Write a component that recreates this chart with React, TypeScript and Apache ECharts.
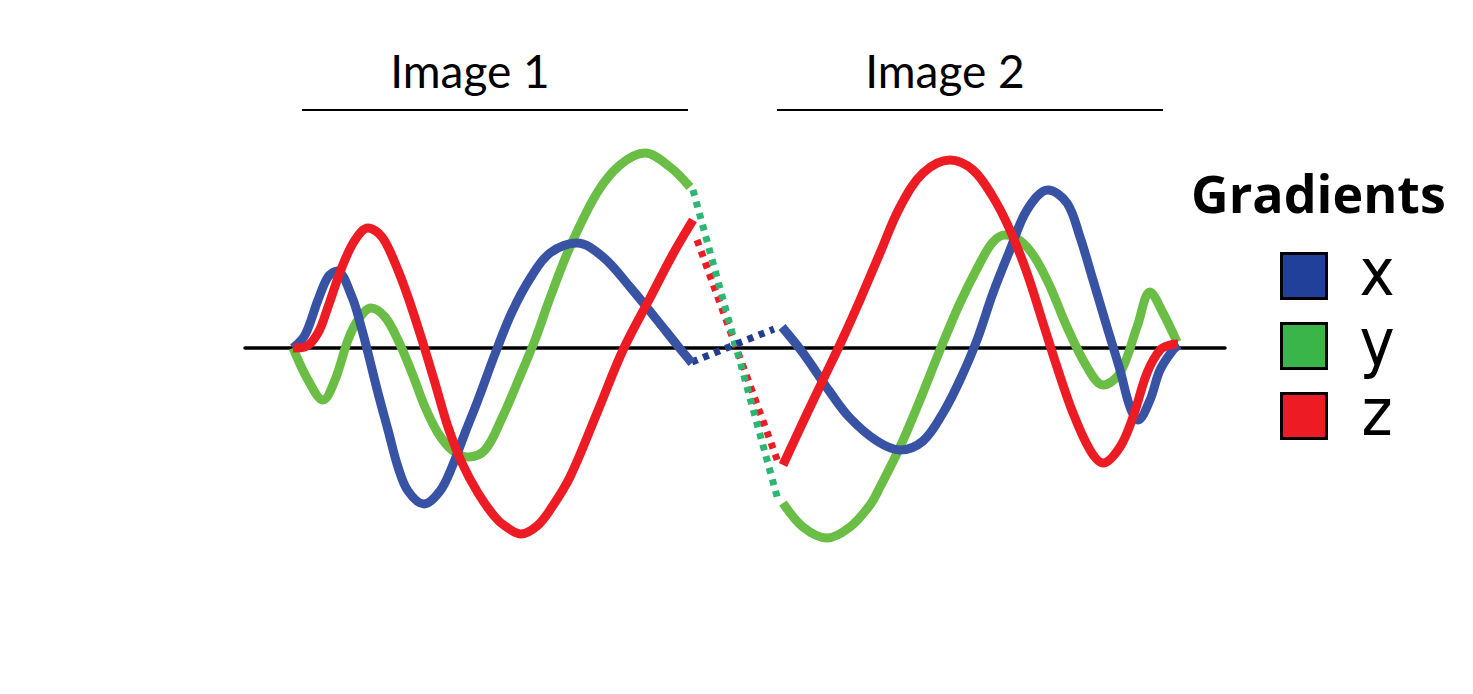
import React, { useEffect, useRef } from "react";
import * as echarts from "echarts";

// x: horizontal position along the recording, y: gradient amplitude (0 = baseline)
const blueImage1: [number, number][] = [
  [0, 0], [12, 13], [25, 48], [35, 71], [44, 77], [59, 51], [69, 18], [75, -5],
  [85, -45], [95, -82], [105, -119], [115, -143], [131, -156], [147, -143],
  [159, -119], [172, -85], [185, -52], [202, -6], [219, 36], [238, 71], [257, 95],
  [284, 105], [310, 91], [337, 61], [364, 28], [384, 3], [399, -15],
];
const redImage1: [number, number][] = [
  [0, 0], [12, 1], [25, 15], [35, 41], [49, 81], [62, 108], [75, 120], [89, 111],
  [102, 85], [115, 51], [129, 8], [142, -35], [155, -79], [169, -115], [185, -145],
  [202, -169], [212, -178], [228, -186], [244, -178], [257, -162], [277, -129],
  [304, -65], [330, -2], [357, 50], [380, 94], [400, 128],
];
const greenImage1: [number, number][] = [
  [0, 0], [15, -32], [30, -52], [42, -32], [55, 8], [65, 28], [78, 40], [92, 31],
  [105, 8], [119, -25], [132, -59], [145, -85], [159, -102], [175, -109],
  [192, -102], [209, -70], [225, -33], [242, 8], [257, 50], [277, 101], [304, 155],
  [327, 183], [352, 195], [377, 181], [397, 161],
];
const blueImage2: [number, number][] = [
  [489, 21], [510, -5], [537, -44], [557, -70], [584, -93], [607, -102], [630, -93],
  [650, -65], [667, -32], [684, 8], [700, 55], [717, 98], [734, 138], [755, 158],
  [774, 145], [787, 111], [800, 68], [814, 21], [827, -22], [837, -59], [845, -72],
  [857, -52], [867, -22], [880, -2], [886, 3],
];
const redImage2: [number, number][] = [
  [490, -117], [510, -74], [530, -32], [550, 10], [567, 48], [587, 95], [607, 141],
  [630, 175], [657, 188], [680, 178], [700, 151], [717, 118], [734, 75], [750, 25],
  [764, -19], [780, -65], [797, -102], [810, -115], [827, -99], [840, -69],
  [854, -25], [867, -2], [877, 3], [885, 4],
];
const greenImage2: [number, number][] = [
  [490, -155], [510, -179], [534, -190], [557, -179], [577, -157], [587, -139],
  [607, -99], [627, -52], [647, -2], [667, 45], [687, 85], [700, 106], [712, 113],
  [734, 101], [754, 68], [774, 21], [794, -19], [810, -37], [827, -25], [844, 21],
  [857, 56], [870, 35], [884, 6],
];
const blueGap: [number, number][] = [[399, -14], [481, 19]];
const greenGap: [number, number][] = [[400, 158], [485, -152]];
const redGap: [number, number][] = [[404, 108], [485, -114]];

const imageTitles = ["Image 1", "Image 2"];
const legendTitle = "Gradients";
const legendLabels = ["x", "y", "z"];
const legendColors = ["#21409a", "#39b54a", "#ed1c24"];

export default function App() {
  const ref = useRef<HTMLDivElement>(null);
  useEffect(() => {
    if (!ref.current) return;
    const chart = echarts.init(ref.current, undefined, { renderer: "svg" });
    const solid = (data: [number, number][], color: string) => ({
      type: "line",
      data,
      smooth: 0.35,
      symbol: "none",
      silent: true,
      lineStyle: { color, width: 9, cap: "butt" },
    });
    const dotted = (data: [number, number][], color: string) => ({
      type: "line",
      data,
      symbol: "none",
      silent: true,
      lineStyle: { color, width: 7, type: [6, 6], cap: "butt" },
    });
    const titleX = [470, 945];
    const lineSpans = [[302, 688], [777, 1163]];
    const graphics: any[] = [];
    imageTitles.forEach((t, i) => {
      graphics.push({
        type: "text",
        style: {
          text: t, x: titleX[i], y: 70, fill: "#000",
          font: "46px Lato, 'Open Sans', sans-serif",
          textAlign: "center", textVerticalAlign: "middle",
        },
      });
      graphics.push({
        type: "line",
        shape: { x1: lineSpans[i][0], y1: 110, x2: lineSpans[i][1], y2: 110 },
        style: { stroke: "#000", lineWidth: 2 },
      });
    });
    graphics.push({
      type: "text",
      style: {
        text: legendTitle, x: 1191, y: 192, fill: "#000",
        font: "bold 52px 'Open Sans', sans-serif",
        textAlign: "left", textVerticalAlign: "middle",
      },
    });
    legendLabels.forEach((l, i) => {
      graphics.push({
        type: "text",
        style: {
          text: l, x: 1377, y: 272 + i * 70, fill: "#000",
          font: "66px 'Liberation Sans Narrow', 'DejaVu Sans Condensed', Lato, sans-serif",
          textAlign: "center", textVerticalAlign: "middle",
        },
      });
      graphics.push({
        type: "rect",
        shape: { x: 1281.5, y: 253.5 + i * 70, width: 45, height: 45 },
        style: { fill: legendColors[i], stroke: "#000", lineWidth: 3 },
      });
    });
    chart.setOption({
      animation: false,
      grid: { left: 245, right: 248, top: 98, bottom: 96 },
      xAxis: {
        type: "value", min: -48, max: 932,
        axisLine: { show: true, onZero: true, lineStyle: { color: "#000", width: 3.5 } },
        axisTick: { show: false }, axisLabel: { show: false }, splitLine: { show: false },
      },
      yAxis: {
        type: "value", min: -250, max: 250, show: false,
        splitLine: { show: false },
      },
      graphic: graphics,
      series: [
        dotted(redGap, "#ed1c24"),
        dotted(greenGap, "#2bb673"),
        dotted(blueGap, "#253d8f"),
        solid(greenImage1, "#6abd45"),
        solid(greenImage2, "#6abd45"),
        solid(blueImage1, "#3953a4"),
        solid(blueImage2, "#3953a4"),
        solid(redImage1, "#ed1c24"),
        solid(redImage2, "#ed1c24"),
      ],
    });
    return () => chart.dispose();
  }, []);
  return (
    <div
      ref={ref}
      style={{ position: "absolute", left: 0, top: 0, width: 1473, height: 694 }}
    />
  );
}
